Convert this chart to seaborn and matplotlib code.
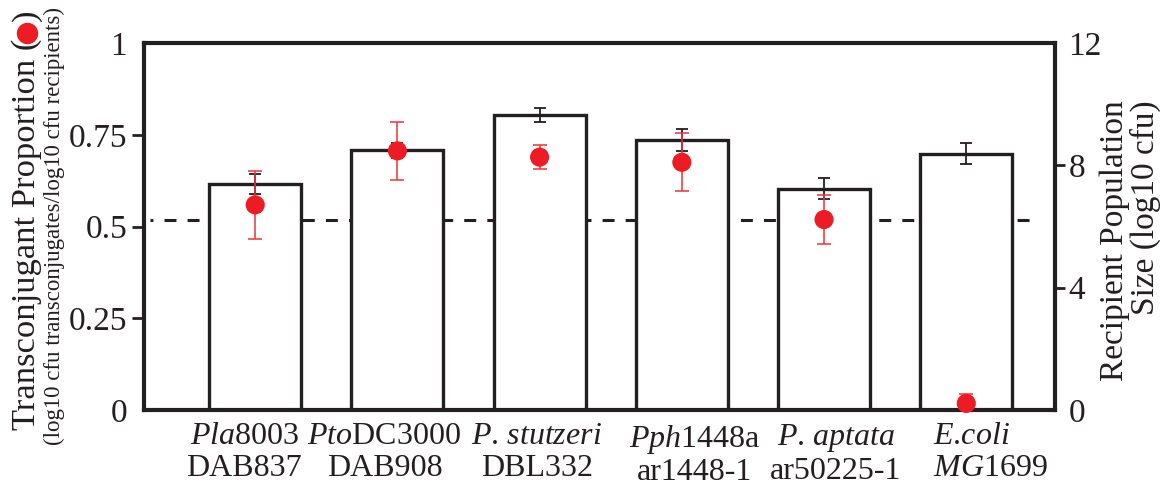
import numpy as np
import pandas as pd
import matplotlib
matplotlib.use("Agg")
import matplotlib.pyplot as plt
import matplotlib.transforms as mtransforms
from matplotlib.lines import Line2D
import seaborn as sns

# ---------------- data ----------------
categories = ["Pla8003 DAB837", "PtoDC3000 DAB908", "P. stutzeri DBL332",
              "Pph1448a ar1448-1", "P. aptata ar50225-1", "E.coli MG1699"]
tick_labels = [
    r"$\mathit{Pla}$8003" + "\nDAB837",
    r"$\mathit{Pto}$DC3000" + "\nDAB908",
    r"$\mathit{P}$. $\mathit{stutzeri}$" + "\nDBL332",
    r"$\mathit{Pph}$1448a" + "\nar1448-1",
    r"$\mathit{P}$. $\mathit{aptata}$" + "\nar50225-1",
    r"$\mathit{E}$.$\mathit{coli}$" + "\n" + r"$\mathit{MG}$1699",
]
recipient_size = [7.39, 8.49, 9.65, 8.83, 7.24, 8.38]      # log10 cfu (right axis)
recipient_err = [0.34, 0.25, 0.23, 0.35, 0.35, 0.34]
transconj_prop = [0.559, 0.706, 0.689, 0.675, 0.519, 0.018]  # left axis
transconj_err = [0.092, 0.079, 0.032, 0.079, 0.068, 0.026]
ref_line = 6.2   # dashed reference line, right-axis units
left_ticks = [0, 0.25, 0.5, 0.75, 1]
left_tick_labels = ["0", "0.25", "0.5", "0.75", "1"]
right_ticks = [0, 4, 8, 12]
right_tick_labels = ["0", "4", "8", "12"]

# ---------------- style ----------------
W, H = 1167, 491
RED = "#ED1C24"
RED_ERR = "#EE3338"
BLACK = "#231F20"

sns.set_theme(style="ticks")
plt.rcParams["font.family"] = ["Liberation Serif", "DejaVu Serif"]
plt.rcParams["mathtext.fontset"] = "custom"
plt.rcParams["mathtext.rm"] = "Liberation Serif"
plt.rcParams["mathtext.it"] = "Liberation Serif:italic"
plt.rcParams["lines.scale_dashes"] = False
plt.rcParams["text.color"] = BLACK
plt.rcParams["xtick.color"] = BLACK
plt.rcParams["ytick.color"] = BLACK

fig = plt.figure(figsize=(W / 100, H / 100), dpi=100)
ax_bar = fig.add_axes([144 / W, 1 - 410 / H, (1055 - 144) / W, (410 - 43) / H])
ax_dot = ax_bar.twinx()

df = pd.DataFrame({"strain": categories, "size": recipient_size})
x_pos = np.arange(len(categories))

# bars (right axis)
sns.barplot(data=df, x="strain", y="size", ax=ax_bar, color="white",
            edgecolor=BLACK, linewidth=2.4, width=0.647, saturation=1,
            errorbar=None, zorder=2)
ax_bar.errorbar(x_pos, recipient_size, yerr=recipient_err, fmt="none",
                ecolor=BLACK, elinewidth=1.3, capsize=4.3, capthick=1.3, zorder=3)
ax_bar.axhline(ref_line, xmin=0.0066, xmax=0.98, color=BLACK, lw=2.2,
               linestyle=(6.5, (8.6, 8.0)), zorder=1)

# red points (left axis)
ax_dot.errorbar(x_pos, transconj_prop, yerr=transconj_err, fmt="none",
                ecolor=RED_ERR, elinewidth=1.1, capsize=4.7, capthick=1.1, zorder=4)
sns.scatterplot(x=x_pos, y=transconj_prop, ax=ax_dot, color=RED, s=190,
                edgecolor="none", linewidth=0, zorder=5, clip_on=False, legend=False)

# axes limits
for a in (ax_bar, ax_dot):
    a.set_xlim(-0.782, 5.624)
    a.set_xlabel("")
    a.set_ylabel("")
ax_bar.set_ylim(0, 12)
ax_dot.set_ylim(0, 1)

# axis sides
ax_bar.yaxis.tick_right()
ax_dot.yaxis.tick_left()

# spines
for s in ax_bar.spines.values():
    s.set_visible(False)
for s in ax_dot.spines.values():
    s.set_visible(True)
    s.set_linewidth(3)
    s.set_color(BLACK)

# ticks
ax_dot.set_yticks(left_ticks)
ax_dot.set_yticklabels(left_tick_labels, fontsize=24)
ax_dot.tick_params(axis="y", which="major", length=8.6, width=2, pad=3.6,
                   left=True, right=False, labelleft=True, labelright=False)
ax_bar.set_yticks(right_ticks)
ax_bar.set_yticklabels(right_tick_labels, fontsize=24)
ax_bar.tick_params(axis="y", which="major", length=7.2, width=2, pad=2.5,
                   right=True, left=False, labelright=True, labelleft=False)
for axis in (ax_dot.yaxis, ax_bar.yaxis):
    ticks = axis.get_major_ticks()
    for t in (ticks[0], ticks[-1]):
        t.tick1line.set_visible(False)
        t.tick2line.set_visible(False)

ax_bar.set_xticks(x_pos)
ax_bar.set_xticklabels(tick_labels, fontsize=23, linespacing=1.12)
ax_bar.tick_params(axis="x", length=0, pad=9)
label_shift_px = [-11, -13, -3, 13, 12, 24]
for lab, dx in zip(ax_bar.get_xticklabels(), label_shift_px):
    lab.set_transform(lab.get_transform() +
                      mtransforms.ScaledTranslation(dx / 100, 0, fig.dpi_scale_trans))
ax_bar.get_xticklabels()[-1].set_multialignment("left")

# left axis label, with red dot symbol
fig.canvas.draw()
renderer = fig.canvas.get_renderer()
t1 = fig.text(35 / W, 61 / H, "Transconjugant Proportion (", rotation=90,
              rotation_mode="anchor", ha="left", va="baseline", fontsize=24.8)
top = t1.get_window_extent(renderer).y1
fig.add_artist(Line2D([26.5 / W], [(top + 6) / H], marker="o", markersize=14.4,
                      color=RED, linestyle="none", transform=fig.transFigure))
fig.text(35 / W, (top + 18) / H, ")", rotation=90, rotation_mode="anchor",
         ha="left", va="baseline", fontsize=24.8)
fig.text(60 / W, 46 / H, "(log10 cfu transconjugates/log10 cfu recipients)",
         rotation=90, rotation_mode="anchor", ha="left", va="baseline", fontsize=16.5)

# right axis label
fig.text(1130 / W, 250 / H, "Recipient Population\nSize (log10 cfu)", rotation=90,
         ha="center", va="center", multialignment="right", fontsize=24, linespacing=1.0)

fig.savefig("out.png", dpi=100)
